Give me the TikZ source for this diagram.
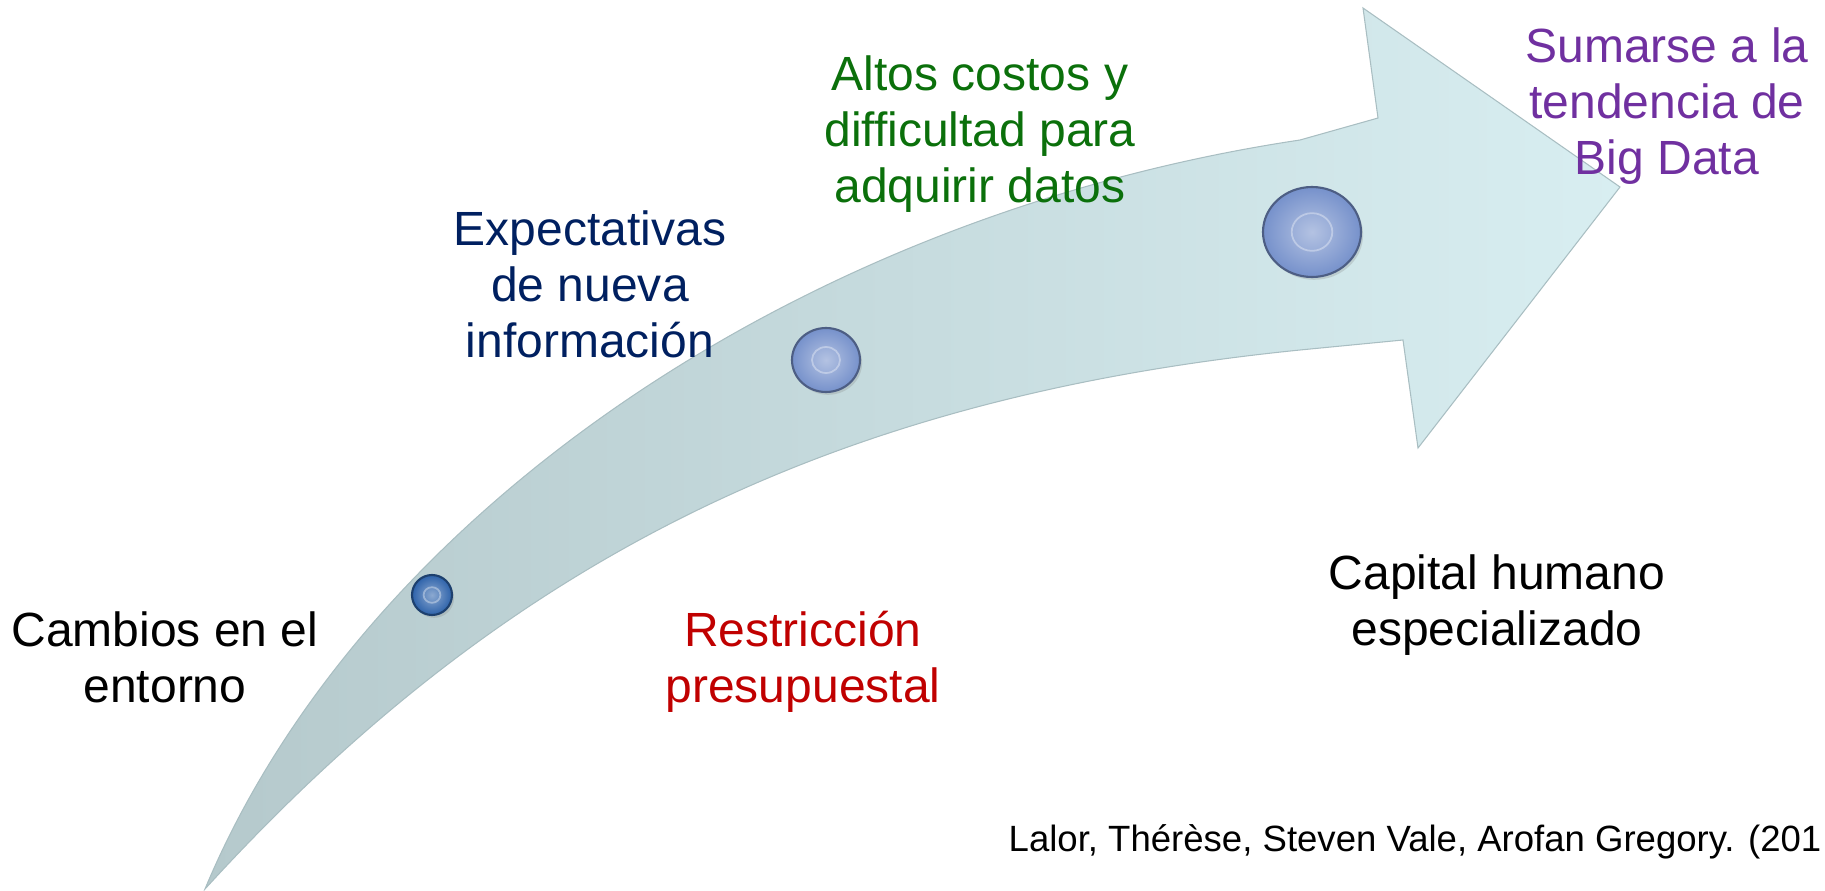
\documentclass[tikz,border=0pt]{standalone}
\usepackage{fontspec}
\setmainfont{Liberation Sans}
\usetikzlibrary{shapes.geometric,shadows}
\definecolor{txtnavy}{HTML}{002060}
\definecolor{txtgreen}{HTML}{0B700B}
\definecolor{txtpurple}{HTML}{7030A0}
\definecolor{txtred}{HTML}{C00000}
\definecolor{shaftgrey}{HTML}{B5C9CC}
\definecolor{shaftlight}{HTML}{D8EEF1}
\definecolor{shaftedge}{HTML}{A9BEC2}
\definecolor{btndark}{HTML}{2D62AA}
\definecolor{btnblue}{HTML}{7691CB}
\begin{document}
\begin{tikzpicture}[
    x=0.1mm, y=-0.1mm,
    lbl/.style={font=\fontsize{13.66}{15.9}\selectfont, align=center, anchor=base, inner sep=0pt},
    cite/.style={font=\fontsize{10.4}{12}\selectfont, anchor=base west, inner sep=0pt},
    body/.style={left color=shaftgrey, right color=shaftlight, draw=shaftedge, line width=0.3pt},
    button/.style={ellipse, inner sep=0pt, draw=#1!65!black, line width=0.6pt,
      outer color=#1, inner color=#1!55!white,
      drop shadow={opacity=0.25, shadow xshift=0.6pt, shadow yshift=-0.8pt},
      path picture={\draw[white, opacity=0.35, line width=0.5pt]
        (path picture bounding box.center) circle[x radius=1.4mm*\btnscale, y radius=1.3mm*\btnscale];}}
  ]
  \useasboundingbox (0,0) rectangle (1825,891);
  % Draw the curved arrow.
  \shade[body] (205,889) .. controls (361,515) and (799,215) .. (1300,140)
    -- (1378,118) -- (1363,8) -- (1620,187) -- (1418,448) -- (1403,340) -- (1300,350)
    .. controls (834,397) and (506,559) .. (205,889) -- cycle;
  % Draw the buttons.
  \def\btnscale{0.6}
  \node[button=btndark, minimum width=4mm, minimum height=4mm] (dotsmall) at (432,595) {};
  \def\btnscale{1}
  \node[button=btnblue, minimum width=6.8mm, minimum height=6.4mm] (dotmid) at (826,360) {};
  \def\btnscale{1.45}
  \node[button=btnblue, minimum width=9.8mm, minimum height=9mm] (dotbig) at (1312,232) {};
  % Draw the labels (anchored at the last line).
  \node[lbl] (cambios) at (165,702) {Cambios en el\\entorno};
  \node[lbl, text=txtnavy] (expect) at (590,357) {Expectativas\\de nueva\\información};
  \node[lbl, text=txtgreen] (altos) at (980,202) {Altos costos y\\difficultad para\\adquirir datos};
  \node[lbl, text=txtpurple] (sumarse) at (1667,174) {Sumarse a la\\tendencia de\\Big Data};
  \node[lbl, text=txtred] (restric) at (803,702) {Restricción\\presupuestal};
  \node[lbl] (capital) at (1497,645) {Capital humano\\especializado};
  \node[cite] (cita) at (1008,851) {Lalor, Thérèse, Steven Vale, Arofan Gregory. (201};
\end{tikzpicture}
\end{document}
